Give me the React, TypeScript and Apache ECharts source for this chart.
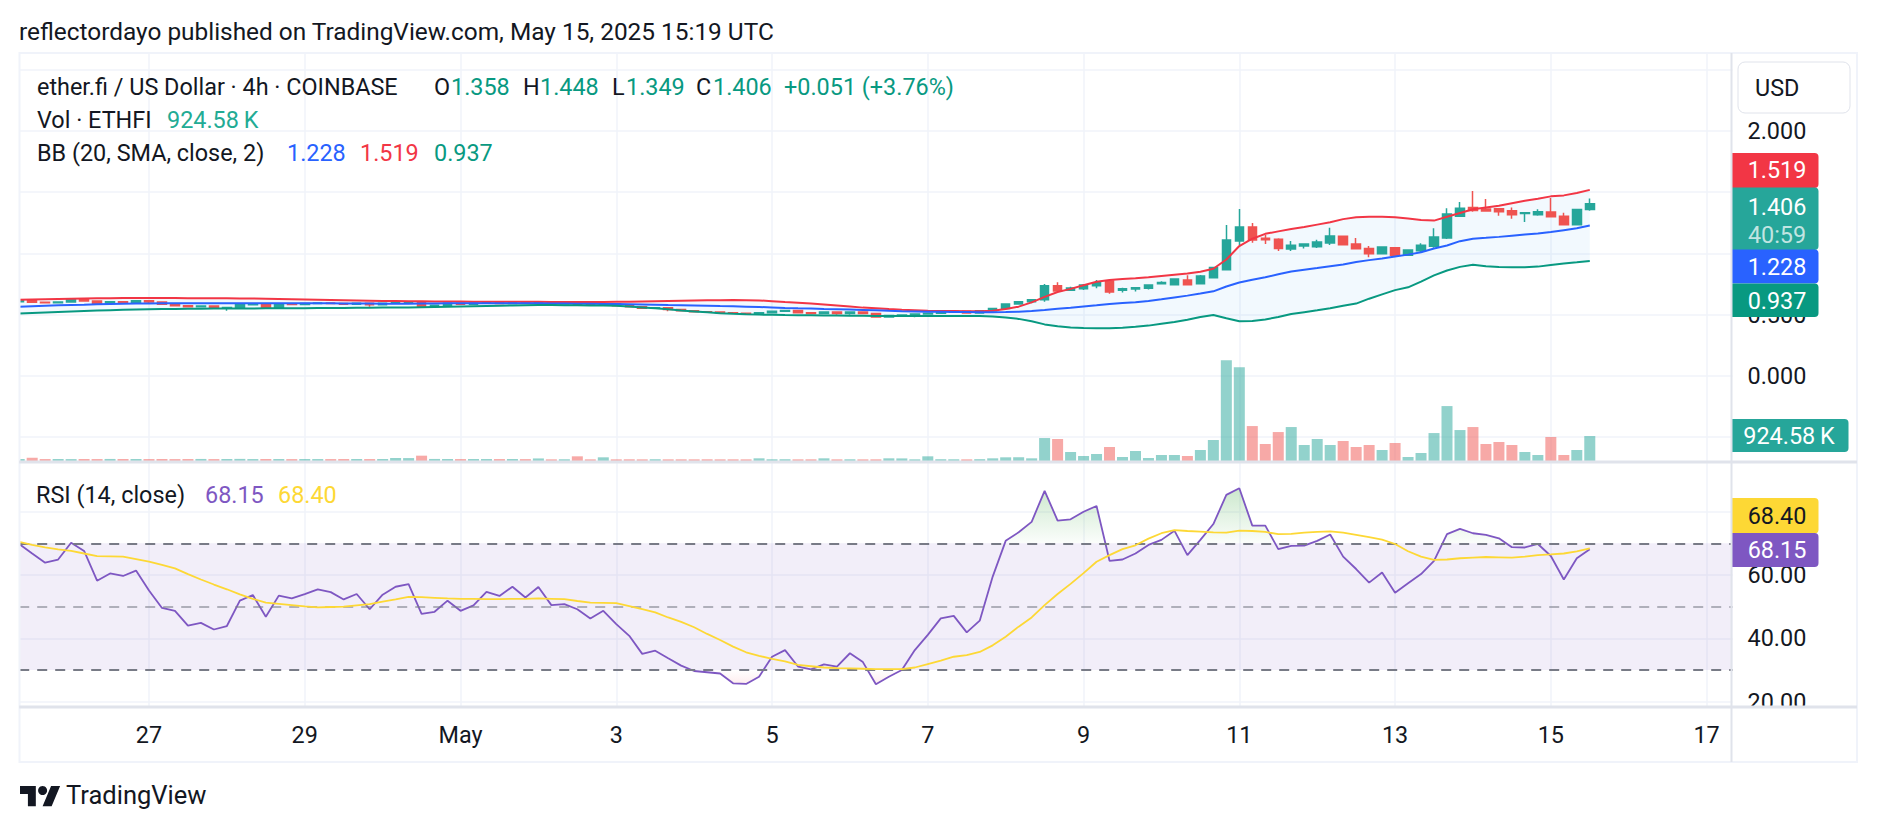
import React, { useEffect, useRef } from "react";
import * as echarts from "echarts";

// ---------- data ----------
const FIRST_BAR_UTC = Date.UTC(2025, 3, 25, 8); // Apr 25 08:00 UTC, 4h bars
const BAR_MS = 4 * 3600 * 1000;
const SLOT_COUNT = 133; // 122 bars + empty future slots up to the axis edge
const MONTHS = ["Jan", "Feb", "Mar", "Apr", "May", "Jun", "Jul", "Aug", "Sep", "Oct", "Nov", "Dec"];

const OPEN = [
  0.606, 0.619, 0.600, 0.596, 0.603, 0.625, 0.611, 0.590, 0.604, 0.598,
  0.614, 0.603, 0.584, 0.573, 0.565, 0.570, 0.557, 0.559, 0.581, 0.589,
  0.560, 0.589, 0.582, 0.590, 0.595, 0.590, 0.584, 0.592, 0.581, 0.592,
  0.601, 0.606, 0.567, 0.576, 0.592, 0.585, 0.593, 0.606, 0.590, 0.603,
  0.592, 0.604, 0.589, 0.595, 0.581, 0.576, 0.589, 0.573, 0.565, 0.552,
  0.556, 0.541, 0.532, 0.524, 0.521, 0.516, 0.512, 0.508, 0.515, 0.528,
  0.533, 0.515, 0.508, 0.522, 0.508, 0.522, 0.510, 0.481, 0.492, 0.496,
  0.505, 0.512, 0.521, 0.527, 0.513, 0.532, 0.549, 0.587, 0.606, 0.622,
  0.736, 0.699, 0.712, 0.735, 0.774, 0.698, 0.709, 0.716, 0.752, 0.744,
  0.783, 0.752, 0.802, 0.867, 1.101, 1.216, 1.124, 1.115, 1.036, 1.060,
  1.055, 1.085, 1.140, 1.077, 1.041, 0.998, 1.047, 0.984, 1.022, 1.058,
  1.126, 1.303, 1.374, 1.363, 1.365, 1.349, 1.327, 1.316, 1.338, 1.303,
  1.235, 1.358,
];
const CLOSE = [
  0.619, 0.600, 0.596, 0.603, 0.625, 0.611, 0.590, 0.604, 0.598, 0.614,
  0.603, 0.584, 0.573, 0.565, 0.570, 0.557, 0.559, 0.581, 0.589, 0.560,
  0.589, 0.582, 0.590, 0.595, 0.590, 0.584, 0.592, 0.581, 0.592, 0.601,
  0.606, 0.567, 0.576, 0.592, 0.585, 0.593, 0.606, 0.590, 0.603, 0.592,
  0.604, 0.589, 0.595, 0.581, 0.576, 0.589, 0.573, 0.565, 0.552, 0.556,
  0.541, 0.532, 0.524, 0.521, 0.516, 0.512, 0.508, 0.515, 0.528, 0.533,
  0.515, 0.508, 0.522, 0.508, 0.522, 0.510, 0.481, 0.492, 0.496, 0.505,
  0.512, 0.521, 0.527, 0.513, 0.532, 0.549, 0.587, 0.606, 0.622, 0.736,
  0.693, 0.718, 0.742, 0.761, 0.684, 0.711, 0.720, 0.742, 0.763, 0.791,
  0.744, 0.815, 0.884, 1.109, 1.216, 1.110, 1.112, 1.041, 1.066, 1.077,
  1.093, 1.142, 1.071, 1.039, 0.998, 1.052, 0.984, 1.028, 1.066, 1.134,
  1.322, 1.368, 1.350, 1.346, 1.340, 1.316, 1.333, 1.341, 1.300, 1.235,
  1.358, 1.406,
];
const HIGH = [
  0.622, 0.622, 0.603, 0.606, 0.627, 0.628, 0.613, 0.606, 0.606, 0.617,
  0.617, 0.605, 0.586, 0.575, 0.573, 0.572, 0.562, 0.583, 0.591, 0.591,
  0.591, 0.592, 0.592, 0.597, 0.597, 0.592, 0.594, 0.594, 0.594, 0.603,
  0.610, 0.608, 0.578, 0.594, 0.594, 0.595, 0.608, 0.608, 0.605, 0.605,
  0.606, 0.606, 0.597, 0.597, 0.583, 0.591, 0.590, 0.575, 0.567, 0.558,
  0.557, 0.543, 0.534, 0.526, 0.523, 0.518, 0.513, 0.517, 0.530, 0.535,
  0.534, 0.517, 0.524, 0.524, 0.524, 0.524, 0.511, 0.494, 0.498, 0.507,
  0.514, 0.523, 0.529, 0.529, 0.534, 0.551, 0.589, 0.608, 0.624, 0.750,
  0.764, 0.727, 0.750, 0.783, 0.783, 0.720, 0.725, 0.745, 0.772, 0.794,
  0.821, 0.823, 0.891, 1.232, 1.363, 1.248, 1.150, 1.123, 1.101, 1.082,
  1.112, 1.210, 1.142, 1.126, 1.060, 1.055, 1.052, 1.033, 1.082, 1.205,
  1.368, 1.420, 1.510, 1.444, 1.371, 1.374, 1.336, 1.360, 1.453, 1.333,
  1.362, 1.448,
];
const LOW = [
  0.603, 0.597, 0.593, 0.594, 0.601, 0.606, 0.587, 0.588, 0.596, 0.596,
  0.587, 0.582, 0.571, 0.563, 0.562, 0.555, 0.532, 0.557, 0.578, 0.557,
  0.558, 0.580, 0.580, 0.588, 0.588, 0.582, 0.583, 0.565, 0.580, 0.590,
  0.599, 0.565, 0.565, 0.574, 0.583, 0.584, 0.592, 0.588, 0.588, 0.590,
  0.590, 0.581, 0.587, 0.579, 0.574, 0.574, 0.571, 0.563, 0.550, 0.550,
  0.527, 0.530, 0.522, 0.519, 0.514, 0.510, 0.506, 0.506, 0.513, 0.526,
  0.513, 0.506, 0.506, 0.499, 0.499, 0.508, 0.479, 0.480, 0.490, 0.478,
  0.503, 0.510, 0.519, 0.511, 0.511, 0.530, 0.547, 0.585, 0.592, 0.606,
  0.688, 0.693, 0.700, 0.715, 0.671, 0.680, 0.688, 0.705, 0.749, 0.742,
  0.742, 0.747, 0.800, 0.862, 1.069, 1.088, 1.077, 1.019, 1.019, 1.041,
  1.044, 1.069, 1.069, 1.036, 0.968, 0.995, 0.980, 0.978, 1.011, 1.047,
  1.118, 1.298, 1.340, 1.344, 1.308, 1.284, 1.257, 1.308, 1.297, 1.232,
  1.232, 1.349,
];
// volume, thousands of ETHFI
const VOLUME_K = [
  70, 120, 72, 75, 70, 74, 72, 76, 70, 74,
  72, 75, 70, 73, 76, 71, 74, 78, 72, 75,
  73, 70, 74, 72, 71, 73, 75, 72, 74, 111,
  108, 197, 76, 74, 72, 75, 73, 72, 74, 70,
  95, 62, 65, 173, 62, 136, 62, 64, 62, 66,
  62, 63, 62, 64, 62, 63, 62, 99, 64, 66,
  62, 63, 99, 62, 64, 62, 63, 99, 96, 62,
  173, 66, 64, 62, 68, 99, 136, 136, 99, 850,
  814, 333, 185, 259, 518, 148, 370, 111, 222, 222,
  185, 407, 777, 3735, 3476, 1294, 629, 1072, 1257, 592,
  814, 592, 740, 518, 592, 407, 666, 148, 296, 1035,
  2034, 1146, 1257, 629, 703, 592, 333, 222, 888, 222,
  407, 924.58,
];
const BB_UPPER = [
  0.622, 0.624, 0.626, 0.628, 0.630, 0.632, 0.633, 0.634, 0.635, 0.635,
  0.635, 0.635, 0.635, 0.634, 0.634, 0.633, 0.633, 0.632, 0.631, 0.630,
  0.628, 0.626, 0.624, 0.622, 0.620, 0.618, 0.616, 0.614, 0.612, 0.611,
  0.610, 0.609, 0.608, 0.607, 0.607, 0.606, 0.606, 0.605, 0.605, 0.604,
  0.604, 0.603, 0.603, 0.603, 0.603, 0.603, 0.604, 0.605, 0.607, 0.609,
  0.611, 0.613, 0.615, 0.617, 0.618, 0.619, 0.618, 0.616, 0.610, 0.603,
  0.597, 0.590, 0.582, 0.574, 0.566, 0.557, 0.552, 0.545, 0.540, 0.536,
  0.532, 0.530, 0.529, 0.528, 0.527, 0.532, 0.545, 0.565, 0.600, 0.645,
  0.685, 0.710, 0.740, 0.768, 0.783, 0.790, 0.797, 0.805, 0.815, 0.825,
  0.835, 0.850, 0.875, 0.950, 1.060, 1.120, 1.160, 1.180, 1.200, 1.215,
  1.235, 1.255, 1.280, 1.295, 1.300, 1.300, 1.295, 1.285, 1.272, 1.268,
  1.300, 1.330, 1.360, 1.375, 1.390, 1.410, 1.430, 1.447, 1.466, 1.474,
  1.493, 1.519,
];
const BB_BASIS = [
  0.565, 0.569, 0.573, 0.576, 0.579, 0.581, 0.584, 0.586, 0.588, 0.590,
  0.591, 0.592, 0.592, 0.592, 0.592, 0.592, 0.592, 0.592, 0.592, 0.592,
  0.592, 0.592, 0.592, 0.592, 0.592, 0.591, 0.590, 0.590, 0.589, 0.589,
  0.589, 0.590, 0.591, 0.592, 0.592, 0.593, 0.593, 0.593, 0.593, 0.592,
  0.592, 0.591, 0.590, 0.589, 0.588, 0.587, 0.586, 0.584, 0.582, 0.580,
  0.578, 0.577, 0.575, 0.573, 0.570, 0.568, 0.565, 0.562, 0.558, 0.554,
  0.551, 0.549, 0.546, 0.544, 0.541, 0.538, 0.535, 0.531, 0.528, 0.526,
  0.524, 0.523, 0.522, 0.521, 0.520, 0.520, 0.521, 0.524, 0.529, 0.537,
  0.547, 0.556, 0.566, 0.576, 0.587, 0.594, 0.601, 0.612, 0.625, 0.640,
  0.655, 0.672, 0.690, 0.730, 0.762, 0.785, 0.805, 0.830, 0.852, 0.866,
  0.880, 0.895, 0.910, 0.930, 0.945, 0.958, 0.975, 0.990, 1.010, 1.040,
  1.065, 1.100, 1.120, 1.127, 1.135, 1.145, 1.155, 1.163, 1.175, 1.190,
  1.205, 1.228,
];
const BB_LOWER = [
  0.508, 0.513, 0.518, 0.522, 0.526, 0.530, 0.533, 0.536, 0.539, 0.541,
  0.543, 0.545, 0.546, 0.547, 0.548, 0.549, 0.549, 0.550, 0.550, 0.551,
  0.551, 0.552, 0.552, 0.553, 0.553, 0.554, 0.555, 0.556, 0.557, 0.558,
  0.559, 0.561, 0.563, 0.565, 0.567, 0.569, 0.571, 0.573, 0.575, 0.577,
  0.578, 0.578, 0.577, 0.576, 0.575, 0.574, 0.572, 0.566, 0.559, 0.552,
  0.543, 0.533, 0.526, 0.519, 0.512, 0.507, 0.503, 0.500, 0.498, 0.496,
  0.495, 0.494, 0.493, 0.492, 0.491, 0.490, 0.489, 0.489, 0.489, 0.489,
  0.489, 0.489, 0.489, 0.489, 0.488, 0.484, 0.477, 0.465, 0.445, 0.420,
  0.405, 0.395, 0.390, 0.388, 0.389, 0.393, 0.400, 0.410, 0.425, 0.440,
  0.458, 0.480, 0.497, 0.470, 0.445, 0.447, 0.460, 0.480, 0.505, 0.520,
  0.535, 0.552, 0.572, 0.590, 0.630, 0.665, 0.700, 0.723, 0.770, 0.820,
  0.860, 0.890, 0.908, 0.895, 0.888, 0.886, 0.886, 0.892, 0.905, 0.918,
  0.927, 0.937,
];
const RSI = [
  69.8, 66.8, 63.9, 64.9, 70.2, 67.6, 58.2, 60.5, 59.7, 61.4,
  55.1, 49.6, 48.7, 44.0, 44.9, 42.8, 43.9, 51.9, 53.7, 46.8,
  53.5, 52.6, 54.0, 55.5, 54.6, 52.3, 54.0, 49.2, 53.8, 56.3,
  57.1, 47.7, 48.4, 51.9, 48.7, 50.4, 54.7, 53.4, 56.3, 52.9,
  56.2, 50.5, 50.8, 49.2, 46.3, 48.7, 44.5, 40.8, 35.1, 36.1,
  33.7, 31.4, 29.7, 29.3, 28.9, 25.8, 25.6, 27.9, 34.2, 36.3,
  31.1, 30.2, 31.8, 31.1, 35.3, 32.5, 25.5, 27.9, 30.0, 36.3,
  41.1, 46.3, 47.1, 41.9, 45.6, 59.5, 70.8, 73.5, 76.8, 86.6,
  77.2, 77.6, 80.0, 81.8, 64.5, 64.9, 66.8, 69.5, 71.1, 74.0,
  66.3, 71.1, 76.1, 85.3, 87.4, 75.6, 75.6, 68.2, 69.2, 69.3,
  70.8, 72.8, 65.8, 61.9, 57.6, 60.8, 54.4, 57.4, 60.3, 64.5,
  72.9, 74.6, 73.2, 72.7, 71.6, 68.8, 68.7, 69.8, 66.0, 58.6,
  65.3, 68.15,
];
const RSI_MA = [
  70.5, 69.5, 68.7, 68.1, 67.6, 66.8, 66.0, 65.9, 65.8, 65.0,
  64.2, 63.2, 62.1, 60.3, 58.6, 57.0, 55.5, 53.9, 52.5, 51.3,
  50.9, 50.5, 50.1, 49.8, 49.9, 50.0, 50.4, 50.8, 51.6, 52.3,
  53.1, 53.0, 52.8, 52.6, 52.5, 52.5, 52.4, 52.4, 52.5, 52.5,
  52.6, 52.5, 52.4, 51.8, 51.3, 51.2, 51.1, 50.2, 49.2, 48.2,
  46.6, 45.2, 43.5, 41.4, 39.5, 37.4, 35.6, 34.5, 33.5, 32.7,
  31.6, 31.2, 30.8, 30.6, 30.5, 30.4, 30.3, 30.3, 30.3, 30.8,
  31.9, 33.0, 34.2, 34.7, 35.7, 37.8, 40.5, 43.7, 46.6, 50.5,
  54.0, 57.2, 60.6, 64.2, 66.3, 68.2, 69.4, 71.5, 73.2, 74.2,
  73.9, 73.7, 73.5, 73.4, 74.0, 73.9, 73.6, 72.9, 73.0, 73.4,
  73.6, 73.8, 73.4, 72.7, 72.0, 71.2, 69.8, 67.5, 65.8, 64.8,
  64.9, 65.3, 65.5, 65.7, 65.6, 65.5, 65.8, 66.3, 66.5, 66.8,
  67.5, 68.4,
];
const PRICE_TICKS = { min: -0.5, max: 2.5, step: 0.5 };
const PRICE_LABELS_SHOWN = [2.0, 0.5, 0.0]; // the others sit under the value tags
const RSI_TICKS = { min: 20, max: 80, step: 20 };
const RSI_LABELS_SHOWN = [60, 40, 20];
const RSI_LEVELS = [70, 50, 30];

// ---------- layout ----------
const W = 1878;
const H = 832;
const FONT = "Roboto, 'Noto Sans', sans-serif";
const FS = 23.4;
const TEXT = "#131722";
const GRID = "#f0f3fa";
const SEP = "#e0e3eb";
const UP = "#26a69a";
const DOWN = "#ef5350";
const PLOT_LEFT = 19.2;
const BAR_STEP = 12.98;
const PLOT_RIGHT = PLOT_LEFT + (SLOT_COUNT - 1) * BAR_STEP;
const PRICE_TOP = 69.8;
const PRICE_BOTTOM = 437.0;
const VOL_TOP = 360;
const VOL_BOTTOM = 461;
const RSI_TOP = 511.7;
const RSI_BOTTOM = 701.7;
const PANE_TOP = 53;
const PANE_SPLIT = 462;
const PANE_BOTTOM = 707;
const FRAME_BOTTOM = 762;
const AXIS_X = 1731.5;
const FRAME_RIGHT = 1857;

const CATEGORIES = Array.from({ length: SLOT_COUNT }, (_, i) =>
  new Date(FIRST_BAR_UTC + i * BAR_MS).toISOString().slice(0, 16)
);
const parseCat = (v: string) => new Date(v + ":00Z");
const isDateTick = (v: string) => {
  const d = parseCat(v);
  return d.getUTCHours() === 0 && d.getUTCDate() % 2 === 1;
};
const dateLabel = (v: string) => {
  const d = parseCat(v);
  return d.getUTCDate() === 1 ? MONTHS[d.getUTCMonth()] : String(d.getUTCDate());
};
const shown = (list: number[], v: number) => list.some((t) => Math.abs(t - v) < 1e-6);

echarts.graphic.registerShape(
  "tvLogo",
  echarts.graphic.extendPath("M14 22H7V11H0V4h14v18zM28 22h-8l7.5-18h8L28 22z", {})
);

const txt = (x: number, y: number, s: string, fill = TEXT, size = FS, align = "left") => ({
  type: "text",
  x,
  y,
  z: 60,
  silent: true,
  style: {
    text: s,
    fill,
    fontSize: size,
    fontFamily: FONT,
    align,
    verticalAlign: "middle",
    textAlign: align,
    textVerticalAlign: "middle",
  },
});
const box = (x: number, y: number, w: number, h: number, fill: string, r: any = [0, 4, 4, 0]) => ({
  type: "rect",
  z: 55,
  silent: true,
  shape: { x, y, width: w, height: h, r },
  style: { fill },
});
const hline = (x1: number, x2: number, y: number, stroke: string, lw: number) => ({
  type: "line",
  z: 58,
  silent: true,
  shape: { x1, y1: y, x2, y2: y },
  style: { stroke, lineWidth: lw },
});
const vline = (x: number, y1: number, y2: number, stroke: string, lw: number) => ({
  type: "line",
  z: 58,
  silent: true,
  shape: { x1: x, y1, x2: x, y2 },
  style: { stroke, lineWidth: lw },
});

function buildOption() {
  const candleData = OPEN.map((o, i) => [o, CLOSE[i], LOW[i], HIGH[i]]);
  const volData = VOLUME_K.map((v, i) => ({
    value: v,
    itemStyle: { color: CLOSE[i] >= OPEN[i] ? "rgba(38,166,154,0.5)" : "rgba(239,83,80,0.5)" },
  }));
  const rsiSpan = PANE_BOTTOM - PANE_SPLIT;
  const rsiPx = (v: number) =>
    RSI_TOP + ((RSI_TICKS.max - v) / (RSI_TICKS.max - RSI_TICKS.min)) * (RSI_BOTTOM - RSI_TOP);
  const off70 = (rsiPx(70) - PANE_SPLIT) / rsiSpan;
  const off30 = (rsiPx(30) - PANE_SPLIT) / rsiSpan;

  const baseX = { type: "category", data: CATEGORIES, boundaryGap: false };
  const axisLabelStyle = { color: TEXT, fontSize: FS, fontFamily: FONT };

  const graphics: any[] = [
    // masks & frame
    { type: "rect", z: 54, silent: true, shape: { x: 0, y: PANE_TOP, width: PLOT_LEFT + 0.5, height: FRAME_BOTTOM - PANE_TOP }, style: { fill: "#ffffff" } },
    { type: "rect", z: 54, silent: true, shape: { x: AXIS_X + 1, y: PANE_BOTTOM + 1, width: 124, height: 22 }, style: { fill: "#ffffff" } },
    {
      type: "rect",
      z: 57,
      silent: true,
      shape: { x: PLOT_LEFT + 0.3, y: PANE_TOP, width: FRAME_RIGHT - PLOT_LEFT - 0.3, height: FRAME_BOTTOM - PANE_TOP },
      style: { fill: "none", stroke: GRID, lineWidth: 2 },
    },
    hline(PLOT_LEFT, FRAME_RIGHT, PANE_SPLIT, SEP, 3),
    hline(PLOT_LEFT, FRAME_RIGHT, PANE_BOTTOM, SEP, 3),
    vline(AXIS_X, PANE_TOP, FRAME_BOTTOM, SEP, 2),
    // header
    txt(19, 31, "reflectordayo published on TradingView.com, May 15, 2025 15:19 UTC", TEXT, 24.4),
    txt(37, 87, "ether.fi / US Dollar · 4h · COINBASE"),
    txt(434, 87, "O"),
    txt(451, 87, "1.358", "#089981"),
    txt(523, 87, "H"),
    txt(540, 87, "1.448", "#089981"),
    txt(612, 87, "L"),
    txt(626, 87, "1.349", "#089981"),
    txt(696, 87, "C"),
    txt(713, 87, "1.406", "#089981"),
    txt(784, 87, "+0.051 (+3.76%)", "#089981"),
    txt(37, 120, "Vol · ETHFI"),
    txt(167, 120, "924.58\u2009K", "#22ab94"),
    txt(37, 153, "BB (20, SMA, close, 2)"),
    txt(287, 153, "1.228", "#2962ff"),
    txt(360, 153, "1.519", "#f23645"),
    txt(434, 153, "0.937", "#089981"),
    txt(36, 495, "RSI (14, close)"),
    txt(205, 495, "68.15", "#7e57c2"),
    txt(278, 495, "68.40", "#fdd835"),
    // price-axis tags
    {
      type: "rect",
      z: 55,
      silent: true,
      shape: { x: 1738, y: 62, width: 112, height: 51, r: 7 },
      style: { fill: "#ffffff", stroke: SEP, lineWidth: 1 },
    },
    txt(1755, 88, "USD"),
    box(AXIS_X, 153, 87, 35, "#f23645"),
    txt(1777, 170, "1.519", "#ffffff", FS, "center"),
    box(AXIS_X, 187.5, 87, 62.5, "#26a69a"),
    txt(1777, 207, "1.406", "#ffffff", FS, "center"),
    txt(1777, 235, "40:59", "rgba(255,255,255,0.72)", FS, "center"),
    box(AXIS_X, 249.5, 87, 34, "#2962ff"),
    txt(1777, 266.5, "1.228", "#ffffff", FS, "center"),
    box(AXIS_X, 283.5, 87, 33.5, "#089981"),
    txt(1777, 300.5, "0.937", "#ffffff", FS, "center"),
    box(AXIS_X, 419, 117, 33, "#26a69a"),
    txt(1789, 435.5, "924.58\u2009K", "#ffffff", FS, "center"),
    box(AXIS_X, 498, 87, 35.5, "#fdd835"),
    txt(1777, 515.5, "68.40", TEXT, FS, "center"),
    box(AXIS_X, 533, 87, 34, "#7e57c2"),
    txt(1777, 550, "68.15", "#ffffff", FS, "center"),
    // footer
    { type: "tvLogo", x: 20, y: 781.5, scaleX: 1.13, scaleY: 1.13, z: 60, silent: true, style: { fill: TEXT } },
    { type: "circle", z: 60, silent: true, shape: { cx: 42.6, cy: 790.5, r: 4.5 }, style: { fill: TEXT } },
    txt(66, 795, "TradingView", TEXT, 25.5),
  ];

  return {
    animation: false,
    backgroundColor: "#ffffff",
    textStyle: { fontFamily: FONT },
    grid: [
      { left: PLOT_LEFT, right: W - PLOT_RIGHT, top: PRICE_TOP, bottom: H - PRICE_BOTTOM, containLabel: false },
      { left: PLOT_LEFT, right: W - PLOT_RIGHT, top: VOL_TOP, bottom: H - VOL_BOTTOM, containLabel: false },
      { left: PLOT_LEFT, right: W - PLOT_RIGHT, top: RSI_TOP, bottom: H - RSI_BOTTOM, containLabel: false },
      { left: PLOT_LEFT, right: W - PLOT_RIGHT, top: PANE_TOP, bottom: H - PANE_BOTTOM, containLabel: false },
    ],
    xAxis: [
      { ...baseX, gridIndex: 0, show: false },
      { ...baseX, gridIndex: 1, show: false },
      { ...baseX, gridIndex: 2, show: false },
      {
        ...baseX,
        gridIndex: 3,
        axisLine: { show: false },
        axisTick: { show: false },
        axisLabel: {
          ...axisLabelStyle,
          margin: 16,
          interval: (_i: number, v: string) => isDateTick(v),
          formatter: (v: string) => dateLabel(v),
        },
        splitLine: {
          show: true,
          interval: (_i: number, v: string) => isDateTick(v),
          lineStyle: { color: GRID, width: 1.5 },
        },
      },
    ],
    yAxis: [
      {
        type: "value",
        gridIndex: 0,
        position: "right",
        min: PRICE_TICKS.min,
        max: PRICE_TICKS.max,
        interval: PRICE_TICKS.step,
        axisLine: { show: false },
        axisTick: { show: false },
        axisLabel: {
          ...axisLabelStyle,
          margin: 15,
          formatter: (v: number) => (shown(PRICE_LABELS_SHOWN, v) ? v.toFixed(3) : ""),
        },
        splitLine: { lineStyle: { color: GRID, width: 1.5 } },
      },
      { type: "value", gridIndex: 1, min: 0, max: 3740, show: false },
      {
        type: "value",
        gridIndex: 2,
        position: "right",
        min: RSI_TICKS.min,
        max: RSI_TICKS.max,
        interval: RSI_TICKS.step,
        axisLine: { show: false },
        axisTick: { show: false },
        axisLabel: {
          ...axisLabelStyle,
          margin: 15,
          formatter: (v: number) => (shown(RSI_LABELS_SHOWN, v) ? v.toFixed(2) : ""),
        },
        splitLine: { lineStyle: { color: GRID, width: 1.5 } },
      },
      { type: "value", gridIndex: 3, min: 0, max: 1, show: false },
    ],
    series: [
      {
        type: "custom",
        xAxisIndex: 0,
        yAxisIndex: 0,
        silent: true,
        z: 1,
        data: [[0, BB_BASIS[0]]],
        renderItem: (_p: any, api: any) => {
          const pts: number[][] = [];
          for (let i = 0; i < BB_UPPER.length; i++) pts.push(api.coord([i, BB_UPPER[i]]));
          for (let i = BB_LOWER.length - 1; i >= 0; i--) pts.push(api.coord([i, BB_LOWER[i]]));
          return { type: "polygon", shape: { points: pts }, style: { fill: "rgba(33,150,243,0.06)" } };
        },
      },
      {
        type: "bar",
        xAxisIndex: 1,
        yAxisIndex: 1,
        silent: true,
        barWidth: 11,
        z: 2,
        data: volData,
      },
      {
        type: "candlestick",
        xAxisIndex: 0,
        yAxisIndex: 0,
        silent: true,
        barWidth: 9,
        z: 3,
        data: candleData,
        itemStyle: { color: UP, color0: DOWN, borderColor: UP, borderColor0: DOWN, borderWidth: 1.5 },
      },
      {
        type: "line",
        xAxisIndex: 0,
        yAxisIndex: 0,
        data: BB_UPPER,
        symbol: "none",
        silent: true,
        z: 4,
        lineStyle: { color: "#f23645", width: 2 },
      },
      {
        type: "line",
        xAxisIndex: 0,
        yAxisIndex: 0,
        data: BB_BASIS,
        symbol: "none",
        silent: true,
        z: 4,
        lineStyle: { color: "#2962ff", width: 2 },
      },
      {
        type: "line",
        xAxisIndex: 0,
        yAxisIndex: 0,
        data: BB_LOWER,
        symbol: "none",
        silent: true,
        z: 4,
        lineStyle: { color: "#089981", width: 2 },
      },
      {
        type: "line",
        xAxisIndex: 2,
        yAxisIndex: 2,
        data: RSI,
        symbol: "none",
        silent: true,
        clip: false,
        z: 4,
        lineStyle: { color: "#7e57c2", width: 1.8 },
        areaStyle: {
          origin: 70,
          color: {
            type: "linear",
            x: 0,
            y: PANE_SPLIT,
            x2: 0,
            y2: PANE_BOTTOM,
            global: true,
            colorStops: [
              { offset: 0, color: "rgba(76,175,80,0.55)" },
              { offset: 0.1, color: "rgba(76,175,80,0.42)" },
              { offset: off70, color: "rgba(76,175,80,0.03)" },
              { offset: off70 + 0.002, color: "rgba(255,255,255,0)" },
              { offset: off30, color: "rgba(242,54,69,0)" },
              { offset: 1, color: "rgba(242,54,69,0.35)" },
            ],
          },
        },
        markArea: {
          silent: true,
          itemStyle: { color: "rgba(126,87,194,0.1)" },
          data: [[{ yAxis: 30 }, { yAxis: 70 }]],
        },
        markLine: {
          silent: true,
          symbol: "none",
          label: { show: false },
          lineStyle: { color: "#787b86", width: 2, type: [10, 8] },
          data: RSI_LEVELS.map((lv) =>
            lv === 50
              ? { yAxis: lv, lineStyle: { color: "rgba(120,123,134,0.55)", width: 2, type: [10, 8] } }
              : { yAxis: lv }
          ),
        },
      },
      {
        type: "line",
        xAxisIndex: 2,
        yAxisIndex: 2,
        data: RSI_MA,
        symbol: "none",
        silent: true,
        clip: false,
        z: 5,
        lineStyle: { color: "#fdd835", width: 1.8 },
      },
    ],
    graphic: graphics,
  };
}

export default function App() {
  const ref = useRef<HTMLDivElement>(null);
  useEffect(() => {
    if (!ref.current) return;
    const chart = echarts.init(ref.current, undefined, { renderer: "svg", width: W, height: H });
    chart.setOption(buildOption() as any);
    return () => chart.dispose();
  }, []);
  return (
    <div
      ref={ref}
      style={{ position: "absolute", left: 0, top: 0, width: W, height: H, background: "#ffffff" }}
    />
  );
}
